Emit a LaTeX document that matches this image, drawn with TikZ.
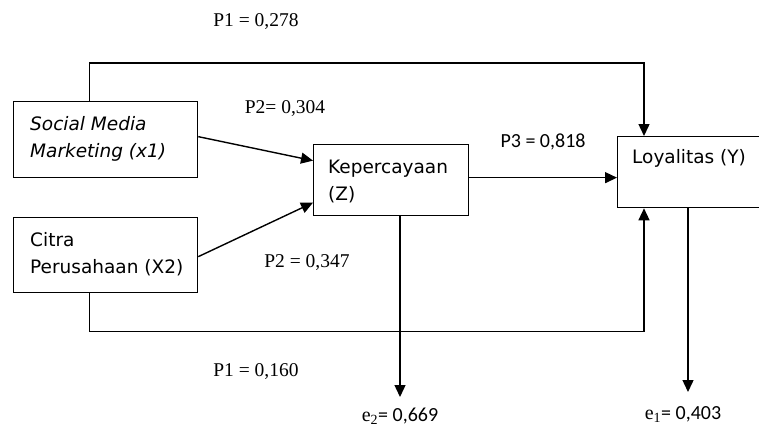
\documentclass[tikz,border=0pt]{standalone}
\usepackage{fontspec}
\setmainfont{Liberation Serif}
\newfontfamily\boxfont{DejaVu Sans}
\newfontfamily\calfont{Carlito}
\usetikzlibrary{arrows.meta,calc}
\tikzset{
  box/.style={draw, line width=1.3pt, inner sep=0pt, anchor=north west},
  boxtxt/.style={inner sep=0pt, anchor=base west, font=\boxfont\fontsize{18.5}{27}\selectfont},
  arr/.style={line width=1.4pt, -{Triangle[length=12pt,width=11pt]}},
  serlab/.style={inner sep=0pt, anchor=base, font=\rmfamily\fontsize{19.5}{22}\selectfont},
  callab/.style={inner sep=0pt, anchor=base, font=\calfont\fontsize{20}{22}\selectfont},
}
\begin{document}
\begin{tikzpicture}[x=1pt,y=-1pt]
\useasboundingbox (0,0) rectangle (759,428);
\clip (0,0) rectangle (759,428);

% boxes
\node[box, minimum width=184pt, minimum height=76pt] (x1) at (13,101) {};
\node[box, minimum width=184pt, minimum height=75pt] (x2) at (13,217) {};
\node[box, minimum width=155pt, minimum height=71pt] (z) at (313,144) {};
\node[box, minimum width=160pt, minimum height=71pt] (y) at (617,136) {};

% box texts
\node[boxtxt] (x1t) at (30,130) {\parbox[t]{170pt}{\itshape Social Media\\Marketing (x1)}};
\node[boxtxt] (x2t) at (30,246) {\parbox[t]{170pt}{Citra\\Perusahaan (X2)}};
\node[boxtxt] (zt) at (328,173) {\parbox[t]{140pt}{Kepercayaan\\(Z)}};
\node[boxtxt] (yt) at (632,163) {Loyalitas (Y)};

% free ends
\coordinate (e2end) at (400,397);
\coordinate (e1end) at (688,392);

% connectors
\draw[arr] ([yshift=3pt]x1.east) -- ([yshift=19.5pt]z.west);
\draw[arr] ([yshift=-1.5pt]x2.east) -- ([yshift=-22.5pt]z.west);
\draw[arr] ([yshift=2.5pt]z.east) -- ([yshift=2.5pt]z.east -| y.west);
\draw[arr] ([xshift=-16pt]x1.north) -- ++(0,-38) -| ([xshift=27pt]y.north west);
\draw[arr] ([xshift=-16pt]x2.south) -- ++(0,38) -| ([xshift=27pt]y.south west);
\draw[arr] (z.south -| e2end) -- (e2end);
\draw[arr] (y.south -| e1end) -- (e1end);

% labels
\node[serlab] (p1a) at (256,27) {P1 = 0,278};
\node[serlab] (p2a) at (285,113) {P2= 0,304};
\node[callab] (p3) at (543,147) {P3 = 0,818};
\node[serlab] (p2b) at (307,267) {P2 = 0,347};
\node[serlab] (p1b) at (256,376) {P1 = 0,160};
\node[callab] (e2) at (400,421) {{\rmfamily e\textsubscript{2}}= 0,669};
\node[callab] (e1) at (683,419) {{\rmfamily e\textsubscript{1}}= 0,403};
\end{tikzpicture}
\end{document}
